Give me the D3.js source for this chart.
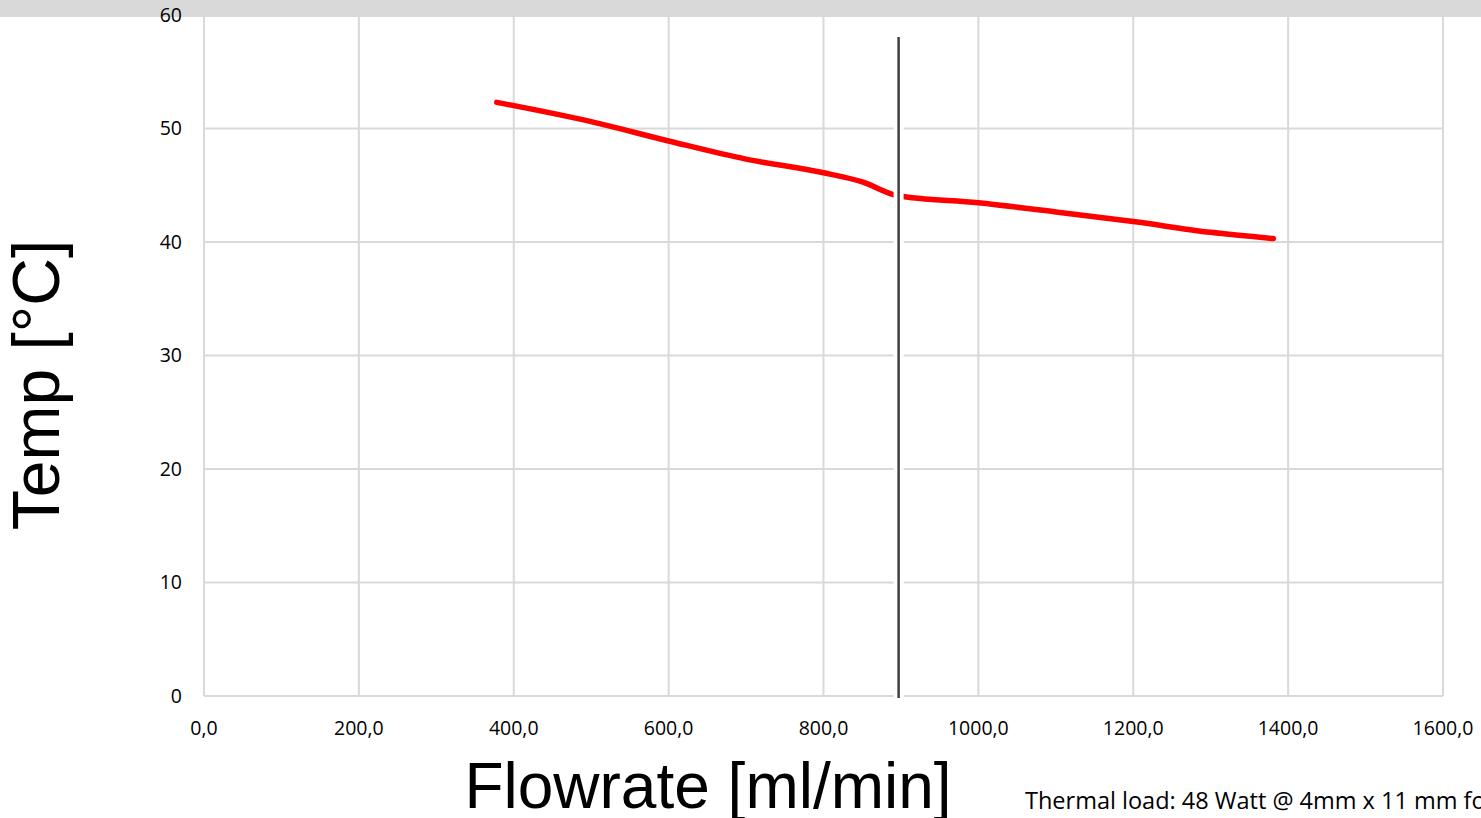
<!DOCTYPE html>
<html><head><meta charset="utf-8">
<script src="https://cdn.jsdelivr.net/npm/d3@7"></script>
<style>body{margin:0;background:#fff;} svg{display:block;}</style>
</head><body>
<script>
const flowrate = [378, 500, 600, 700, 800, 850, 895, 1000, 1100, 1200, 1300, 1381];
const temps    = [52.3, 50.6, 48.9, 47.3, 46.1, 45.3, 44.1, 43.45, 42.65, 41.8, 40.85, 40.3];
const xTicks = [0, 200, 400, 600, 800, 1000, 1200, 1400, 1600];
const yTicks = [0, 10, 20, 30, 40, 50, 60];
const markerFlow = 897;
const xTitle = "Flowrate [ml/min]";
const yTitle = "Temp [°C]";
const note = "Thermal load: 48 Watt @ 4mm x 11 mm footprint";

const W = 1481, H = 818;
const svg = d3.select("body").append("svg").attr("width", W).attr("height", H);
const x = d3.scaleLinear().domain([0, 1600]).range([204, 1443]);
const y = d3.scaleLinear().domain([0, 60]).range([696, 15]);
const font = "'Open Sans', Calibri, sans-serif";

svg.append("g").selectAll("line").data(yTicks).join("line")
  .attr("x1", x(0)).attr("x2", x(1600)).attr("y1", d => y(d)).attr("y2", d => y(d))
  .attr("stroke", "#d9d9d9").attr("stroke-width", 2);
svg.append("g").selectAll("line").data(xTicks).join("line")
  .attr("x1", d => x(d)).attr("x2", d => x(d)).attr("y1", y(60)).attr("y2", y(0))
  .attr("stroke", "#d9d9d9").attr("stroke-width", 2);

const line = d3.line().x((d, i) => x(flowrate[i])).y(d => y(d)).curve(d3.curveMonotoneX);
svg.append("path").datum(temps).attr("d", line)
  .attr("fill", "none").attr("stroke", "#ff0000").attr("stroke-width", 5.5)
  .attr("stroke-linecap", "round").attr("stroke-linejoin", "round");

svg.append("line").attr("x1", x(markerFlow)).attr("x2", x(markerFlow))
  .attr("y1", 37).attr("y2", 698).attr("stroke", "#fff").attr("stroke-width", 10);
svg.append("line").attr("x1", x(markerFlow)).attr("x2", x(markerFlow))
  .attr("y1", 37).attr("y2", 698).attr("stroke", "#404040").attr("stroke-width", 2.5);

svg.append("rect").attr("x", 0).attr("y", 0).attr("width", W).attr("height", 17).attr("fill", "#d9d9d9");

svg.append("g").selectAll("text").data(yTicks).join("text")
  .attr("x", 182).attr("y", d => y(d)).attr("dy", "0.35em").attr("text-anchor", "end")
  .attr("font-family", font).attr("font-size", 19.5).attr("fill", "#000").text(d => d);
svg.append("g").selectAll("text").data(xTicks).join("text")
  .attr("x", d => x(d)).attr("y", 735).attr("text-anchor", "middle")
  .attr("font-family", font).attr("font-size", 19.5).attr("fill", "#000")
  .text(d => d3.format(".1f")(d).replace(".", ","));

svg.append("text").attr("x", 708).attr("y", 808).attr("text-anchor", "middle")
  .attr("font-family", "'Liberation Sans', Arial, sans-serif").attr("font-size", 64).text(xTitle);
svg.append("text").attr("transform", "translate(59,385) rotate(-90)").attr("text-anchor", "middle")
  .attr("font-family", "'Liberation Sans', Arial, sans-serif").attr("font-size", 66).text(yTitle);

svg.append("text").attr("x", 1025).attr("y", 809)
  .attr("font-family", font).attr("font-size", 23.5).text(note);
</script>
</body></html>
